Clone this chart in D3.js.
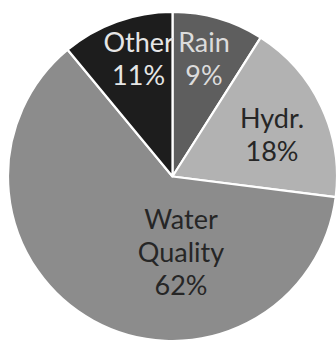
<!DOCTYPE html>
<html>
<head>
<meta charset="utf-8">
<script src="https://cdn.jsdelivr.net/npm/d3@7"></script>
<style>
  html, body { margin: 0; padding: 0; background: #ffffff; }
  svg { display: block; }
</style>
</head>
<body>
<svg id="chart" width="336" height="342"></svg>
<script>
// Data
const categories = ["Rain", "Hydr.", "Water Quality", "Other"];
const shares = [9, 18, 62, 11];
const labelLines = [["Rain", "9%"], ["Hydr.", "18%"], ["Water", "Quality", "62%"], ["Other", "11%"]];

// Styling / layout (not data)
const fills = ["#5e5e5e", "#b2b2b2", "#8c8c8c", "#1d1d1d"];
const textFills = ["#dcdcdc", "#262626", "#262626", "#e6e6e6"];
// label anchor: [angle offset in degrees from slice mid-angle, radius]
const labelPlace = [[-1.2, 121.6], [2.6, 107.8], [-35.2, 76.5], [3.7, 122.3]];

const width = 336, height = 342;
const cx = 172.5, cy = 176.5, radius = 164.5;
const fontSize = 27, lineH = 33;

const svg = d3.select("#chart");
const g = svg.append("g").attr("transform", `translate(${cx},${cy})`);

const pie = d3.pie().sort(null).value(d => d.value);
const arcs = pie(categories.map((c, i) => ({ name: c, value: shares[i], i })));

const arc = d3.arc().innerRadius(0).outerRadius(radius);

g.selectAll("path.slice")
  .data(arcs)
  .join("path")
  .attr("class", "slice")
  .attr("d", arc)
  .attr("fill", d => fills[d.data.i])
  .attr("stroke", "#ffffff")
  .attr("stroke-width", 2.2)
  .attr("stroke-linejoin", "round");

g.selectAll("text.lbl")
  .data(arcs)
  .join("text")
  .attr("class", "lbl")
  .attr("text-anchor", "middle")
  .attr("font-family", "Lato, 'Open Sans', sans-serif")
  .attr("font-size", fontSize)
  .attr("fill", d => textFills[d.data.i])
  .each(function(d) {
    const i = d.data.i;
    const mid = (d.startAngle + d.endAngle) / 2 + labelPlace[i][0] * Math.PI / 180;
    const r = labelPlace[i][1];
    const x = Math.sin(mid) * r;
    const y = -Math.cos(mid) * r;
    const lines = labelLines[i];
    const n = lines.length;
    const t = d3.select(this);
    lines.forEach((ln, k) => {
      t.append("tspan")
        .attr("x", x)
        .attr("y", y + (k - (n - 1) / 2) * lineH + fontSize * 0.35)
        .text(ln);
    });
  });
</script>
</body>
</html>
